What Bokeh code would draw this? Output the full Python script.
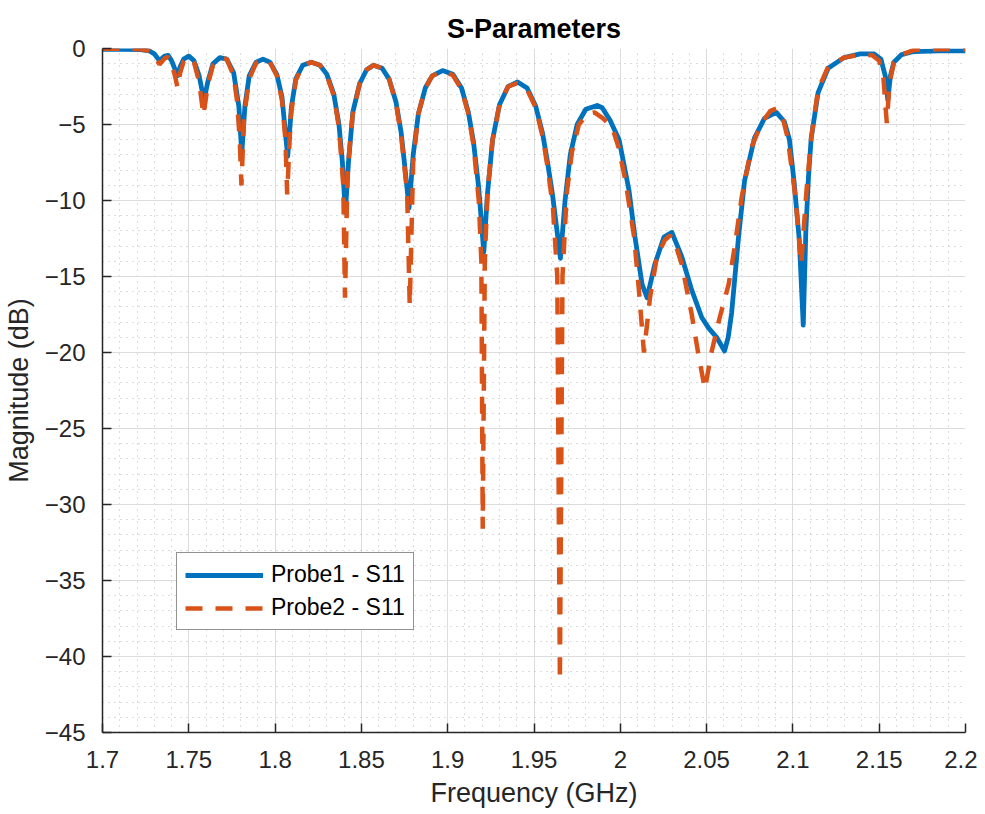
from bokeh.plotting import figure
from bokeh.models import FixedTicker, CustomJSTickFormatter, Legend, LegendItem, ColumnDataSource
from bokeh.embed import file_html
from bokeh.resources import INLINE

# ---- data ----
freq1 = [1.700, 1.712, 1.722, 1.727, 1.730, 1.733, 1.736, 1.738, 1.740, 1.7425, 1.7435, 1.745, 1.747,
         1.750, 1.753, 1.756, 1.7588, 1.761, 1.764, 1.768, 1.772, 1.776, 1.779, 1.7807, 1.7825, 1.785,
         1.789, 1.793, 1.797, 1.801, 1.804, 1.8073, 1.8095, 1.812, 1.816, 1.821, 1.826, 1.830, 1.834,
         1.837, 1.839, 1.8407, 1.8425, 1.845, 1.849, 1.853, 1.857, 1.862, 1.866, 1.870, 1.873, 1.875,
         1.8776, 1.880, 1.883, 1.887, 1.891, 1.897, 1.903, 1.908, 1.912, 1.915, 1.918, 1.9209, 1.923,
         1.926, 1.930, 1.935, 1.9405, 1.946, 1.951, 1.955, 1.958, 1.9607, 1.9653, 1.968, 1.971, 1.975,
         1.980, 1.9866, 1.9895, 1.994, 1.9993, 2.005, 2.0085, 2.0126, 2.0155, 2.020, 2.0253, 2.0299, 2.0356,
         2.0414, 2.0472, 2.0512, 2.0558, 2.0604, 2.0625, 2.0645, 2.0685, 2.072, 2.0777, 2.0835, 2.0904,
         2.095, 2.098, 2.1008, 2.1037, 2.106, 2.1075, 2.109, 2.1106, 2.1146, 2.1204, 2.1296, 2.139,
         2.147, 2.151, 2.1535, 2.155, 2.1565, 2.1585, 2.163, 2.170, 2.185, 2.200]
probe1_s11 = [-0.05, -0.05, -0.08, -0.15, -0.35, -0.8, -0.5, -0.45, -0.8, -1.5, -1.8, -1.2, -0.7,
              -0.5, -0.8, -1.8, -3.4, -2.2, -1.0, -0.6, -0.7, -1.6, -3.8, -6.9, -3.8, -1.8,
              -0.9, -0.7, -0.9, -1.7, -3.2, -7.1, -3.8, -2.0, -1.1, -0.9, -1.1, -1.7, -3.0,
              -5.0, -7.5, -10.8, -7.5, -4.2, -2.3, -1.4, -1.1, -1.3, -2.0, -3.5, -5.5, -7.6,
              -10.5, -7.0, -4.3, -2.6, -1.8, -1.45, -1.7, -2.6, -4.2, -6.2, -9.2, -13.4, -9.6,
              -6.0, -3.7, -2.5, -2.2, -2.6, -3.8, -5.6, -7.6, -9.6, -13.8, -10.0, -7.0, -5.0,
              -4.0, -3.75, -3.9, -4.7, -6.0, -9.3, -12.4, -15.5, -16.4, -14.2, -12.4, -12.1, -13.7,
              -15.9, -17.7, -18.4, -19.0, -19.9, -19.0, -17.4, -12.4, -8.7, -5.9, -4.6, -4.2,
              -4.8, -6.0, -8.9, -12.6, -18.2, -12.0, -8.5, -5.9, -2.9, -1.3, -0.6, -0.35,
              -0.35, -0.7, -1.8, -3.4, -1.8, -0.9, -0.4, -0.2, -0.15, -0.15]

freq2 = [1.700, 1.712, 1.722, 1.727, 1.730, 1.733, 1.736, 1.738, 1.740, 1.742, 1.7435, 1.745, 1.747,
         1.750, 1.753, 1.756, 1.7585, 1.761, 1.764, 1.768, 1.772, 1.776, 1.778, 1.7795, 1.7805, 1.782,
         1.785, 1.789, 1.793, 1.797, 1.801, 1.804, 1.806, 1.807, 1.809, 1.812, 1.816, 1.821, 1.826,
         1.830, 1.834, 1.837, 1.8395, 1.8405, 1.842, 1.845, 1.849, 1.853, 1.857, 1.862, 1.866, 1.870,
         1.873, 1.8765, 1.878, 1.880, 1.883, 1.887, 1.891, 1.897, 1.903, 1.908, 1.912, 1.915, 1.918,
         1.9195, 1.9203, 1.9215, 1.923, 1.926, 1.930, 1.935, 1.940, 1.946, 1.951, 1.955, 1.958, 1.961,
         1.9635, 1.965, 1.9665, 1.969, 1.972, 1.976, 1.981, 1.985, 1.990, 1.9953, 1.999, 2.003, 2.008,
         2.0108, 2.0137, 2.0172, 2.0212, 2.0258, 2.0288, 2.032, 2.0356, 2.0414, 2.0455, 2.049, 2.053,
         2.0576, 2.0628, 2.0662, 2.0703, 2.076, 2.0818, 2.087, 2.0904, 2.094, 2.097, 2.1015, 2.1048,
         2.1077, 2.1106, 2.1146, 2.1204, 2.1296, 2.139, 2.146, 2.150, 2.1525, 2.1544, 2.156, 2.1585,
         2.163, 2.170, 2.185, 2.200]
probe2_s11 = [-0.02, -0.02, -0.05, -0.15, -0.45, -1.05, -0.65, -0.55, -0.9, -1.8, -2.6, -1.6, -0.85,
              -0.55, -0.9, -2.2, -4.4, -2.4, -1.1, -0.6, -0.7, -1.8, -3.5, -6.0, -9.0, -4.5,
              -2.0, -0.95, -0.75, -0.9, -1.8, -3.4, -6.0, -9.6, -4.5, -2.1, -1.1, -0.9, -1.1,
              -1.8, -3.1, -5.2, -9.0, -16.4, -8.0, -4.3, -2.3, -1.4, -1.1, -1.3, -2.0, -3.6,
              -5.7, -9.5, -16.9, -7.5, -4.3, -2.6, -1.8, -1.5, -1.75, -2.7, -4.3, -6.4, -10.0,
              -14.0, -31.6, -14.0, -9.5, -6.0, -3.7, -2.5, -2.3, -2.7, -3.9, -5.8, -7.9, -10.5,
              -15.0, -41.6, -15.0, -9.5, -6.8, -5.0, -4.3, -4.2, -4.6, -5.2, -6.5, -8.7, -12.4,
              -15.9, -20.0, -16.4, -13.7, -12.6, -12.3, -12.9, -14.2, -17.5, -20.3, -22.4, -19.9,
              -17.7, -15.5, -13.1, -9.8, -6.5, -4.9, -4.1, -3.95, -4.5, -5.9, -9.8, -14.2,
              -9.6, -5.9, -2.7, -1.2, -0.6, -0.4, -0.45, -0.8, -2.0, -4.9, -2.3, -0.9,
              -0.4, -0.1, -0.05, -0.05]

x_ticks = [1.7, 1.75, 1.8, 1.85, 1.9, 1.95, 2.0, 2.05, 2.1, 2.15, 2.2]
x_minor = [round(1.7 + 0.01 * i, 2) for i in range(51)]
y_ticks = [-45, -40, -35, -30, -25, -20, -15, -10, -5, 0]
y_minor = list(range(-45, 1))
labels = ["Probe1 - S11", "Probe2 - S11"]

FONT = "Liberation Sans"
DARK = "#262626"

p = figure(width=977, height=812, output_backend="svg", toolbar_location=None,
           x_range=(1.7, 2.2), y_range=(-45, 0),
           min_border_left=98, min_border_right=12, min_border_top=48, min_border_bottom=80)
p.background_fill_color = "white"
p.border_fill_color = "white"
p.outline_line_color = None

p.title.text = "S-Parameters"
p.title.align = "center"
p.title.text_font = FONT
p.title.text_font_style = "bold"
p.title.text_font_size = "27px"
p.title.text_color = "black"

src1 = ColumnDataSource(dict(x=freq1, y=probe1_s11))
src2 = ColumnDataSource(dict(x=freq2, y=probe2_s11))
r1 = p.line("x", "y", source=src1, line_color="#0072BD", line_width=4.8, line_join="round")
r2 = p.line("x", "y", source=src2, line_color="#D95319", line_width=4.5, line_dash="17 13")

p.xaxis.ticker = FixedTicker(ticks=x_ticks, minor_ticks=x_minor)
p.yaxis.ticker = FixedTicker(ticks=y_ticks, minor_ticks=y_minor)
p.xaxis.formatter = CustomJSTickFormatter(code="return String(parseFloat(tick.toFixed(2)));")

for ax in (p.xaxis[0], p.yaxis[0]):
    ax.axis_line_color = DARK
    ax.axis_line_width = 1.5
    ax.major_tick_line_color = DARK
    ax.major_tick_line_width = 1.5
    ax.major_tick_in = 9
    ax.major_tick_out = 0
    ax.minor_tick_line_color = None
    ax.major_label_text_font = FONT
    ax.major_label_text_font_size = "24px"
    ax.major_label_text_color = DARK
    ax.axis_label_text_font = FONT
    ax.axis_label_text_font_size = "27px"
    ax.axis_label_text_font_style = "normal"
    ax.axis_label_text_color = DARK

p.xaxis.axis_label = "Frequency (GHz)"
p.yaxis.axis_label = "Magnitude (dB)"
p.xaxis.major_label_standoff = 14
p.yaxis.major_label_standoff = 13
p.xaxis.axis_label_standoff = 7
p.yaxis.axis_label_standoff = 8

for g in (p.xgrid[0], p.ygrid[0]):
    g.grid_line_color = "#dcdcdc"
    g.grid_line_width = 1
    g.minor_grid_line_color = "#b8b8b8"
    g.minor_grid_line_width = 1
    g.minor_grid_line_dash = "1 5"

legend = Legend(items=[LegendItem(label=labels[0], renderers=[r1]),
                       LegendItem(label=labels[1], renderers=[r2])],
                location=(74, 102))
legend.label_text_font = FONT
legend.label_text_font_size = "23px"
legend.label_text_color = "black"
legend.glyph_width = 78
legend.glyph_height = 24
legend.label_standoff = 8
legend.padding = 8
legend.spacing = 6
legend.margin = 0
legend.border_line_color = DARK
legend.border_line_width = 1
legend.background_fill_color = "white"
legend.background_fill_alpha = 1
p.add_layout(legend, "center")

open("out.html", "w").write(file_html(p, INLINE))
